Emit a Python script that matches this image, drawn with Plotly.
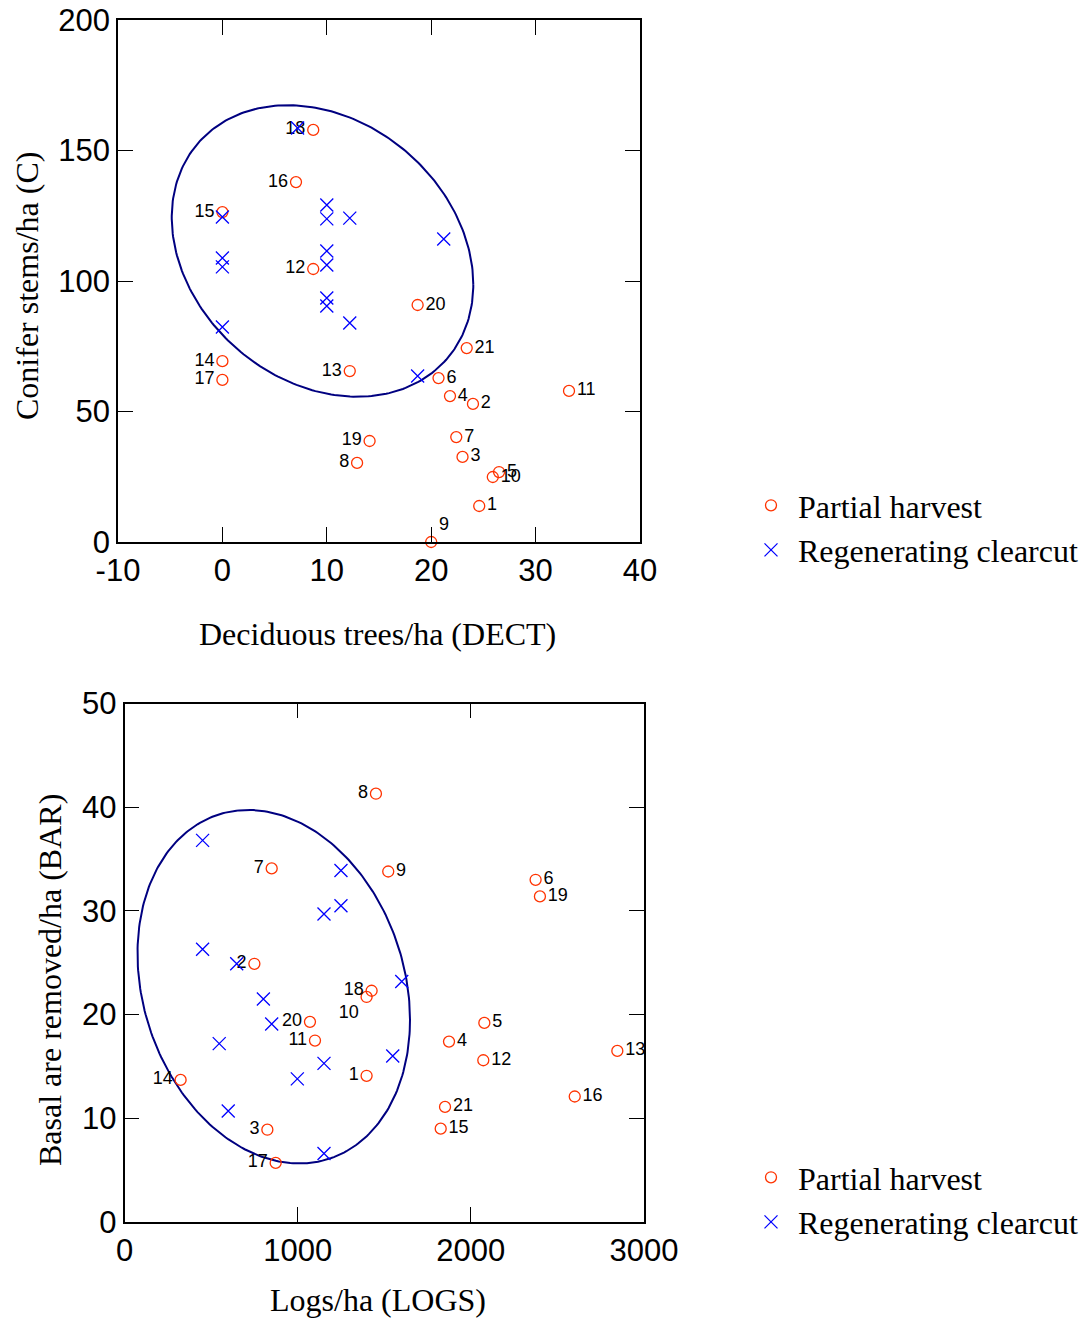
import numpy as np
import plotly.graph_objects as go

# ---------------- data: top panel (DECT vs C) ----------------
TOP_PH_ID = [str(i) for i in range(1, 22)]
TOP_PH_DECT = [24.6, 24.0, 23.0, 21.8, 26.5, 20.7, 22.4, 12.9, 20.0, 25.9, 33.2,
               8.7, 12.2, 0.0, 0.0, 7.05, 0.0, 8.7, 14.1, 18.7, 23.4]
TOP_PH_C = [13.8, 52.9, 32.6, 55.9, 26.8, 62.8, 40.2, 30.3, 0.0, 24.9, 57.9,
            104.6, 65.5, 69.3, 126.4, 137.9, 62.1, 157.9, 38.7, 90.8, 74.3]
TOP_RC_DECT = [7.2, 0.0, 10.0, 10.0, 12.2, 21.2, 0.0, 0.0, 10.0, 10.0, 10.0, 10.0, 12.2, 0.0, 18.7]
TOP_RC_C = [158.6, 124.5, 129.1, 123.8, 124.1, 116.1, 108.8, 105.4, 111.5, 106.1,
            93.5, 90.4, 83.9, 82.4, 63.6]
TOP_X_TICKS = [-10, 0, 10, 20, 30, 40]
TOP_X_TICKTEXT = ["-10", "0", "10", "20", "30", "40"]
TOP_LABEL_POS = ["middle right", "middle right", "middle right", "middle right", "middle right",
                 "middle right", "middle right", "middle left", "top right", "middle right",
                 "middle right", "middle left", "middle left", "middle left", "middle left",
                 "middle left", "middle left", "middle left", "middle left", "middle right",
                 "middle right"]
TOP_ELLIPSE_CENTER = (9.59, 111.5)
TOP_ELLIPSE_COV = [[208.6, -186.1], [-186.1, 3120.6]]

# ---------------- data: bottom panel (LOGS vs BAR) ----------------
BOT_PH_ID = [str(i) for i in range(1, 22)]
BOT_PH_LOGS = [1398, 750, 825, 1874, 2078, 2374, 850, 1452, 1523, 1398, 1100,
               2072, 2846, 324, 1826, 2600, 873, 1427, 2399, 1071, 1851]
BOT_PH_BAR = [14.1, 24.9, 8.9, 17.4, 19.2, 33.0, 34.1, 41.3, 33.8, 21.7, 17.5,
              15.6, 16.5, 13.7, 9.0, 12.1, 5.7, 22.3, 31.4, 19.3, 11.1]
BOT_RC_LOGS = [451, 1250, 1250, 1152, 451, 648, 1601, 802, 850, 547, 1152, 998, 1549, 599, 1152]
BOT_RC_BAR = [36.8, 33.9, 30.5, 29.7, 26.3, 24.9, 23.2, 21.5, 19.1, 17.2, 15.3, 13.8, 16.0, 10.7, 6.6]
BOT_LABEL_POS = ["middle left", "middle left", "middle left", "middle right", "middle right",
                 "middle right", "middle left", "middle left", "middle right", "bottom left",
                 "middle left", "middle right", "middle right", "middle left", "middle right",
                 "middle right", "middle left", "middle left", "middle right", "middle left",
                 "middle right"]
BOT_ELLIPSE_CENTER = (861.9, 22.69)
BOT_ELLIPSE_COV = [[619050.0, -2511.0], [-2511.0, 290.5]]

W, H = 1090, 1320
RED = "#ff3300"
BLUE = "#0000ff"
NAVY = "#000080"
SANS = "Liberation Sans, Arial, sans-serif"
SERIF = "Liberation Serif, Times New Roman, serif"


def ellipse(center, cov, n=300):
    L = np.linalg.cholesky(np.array(cov))
    t = np.linspace(0, 2 * np.pi, n)
    pts = L @ np.vstack([np.cos(t), np.sin(t)])
    return pts[0] + center[0], pts[1] + center[1]


fig = go.Figure()

# top panel
ex, ey = ellipse(TOP_ELLIPSE_CENTER, TOP_ELLIPSE_COV)
fig.add_trace(go.Scatter(x=ex, y=ey, mode="lines", line=dict(color=NAVY, width=2),
                         showlegend=False, hoverinfo="skip", xaxis="x", yaxis="y"))
fig.add_trace(go.Scatter(x=TOP_PH_DECT, y=TOP_PH_C, mode="markers+text", text=TOP_PH_ID,
                         textposition=TOP_LABEL_POS, textfont=dict(family=SANS, size=18, color="black"),
                         marker=dict(symbol="circle-open", size=11, color=RED, line=dict(width=1.3)),
                         name="Partial harvest", legend="legend", cliponaxis=False,
                         xaxis="x", yaxis="y"))
fig.add_trace(go.Scatter(x=TOP_RC_DECT, y=TOP_RC_C, mode="markers",
                         marker=dict(symbol="x-thin-open", size=13, color=BLUE, line=dict(width=1.3, color=BLUE)),
                         name="Regenerating clearcut", legend="legend", cliponaxis=False,
                         xaxis="x", yaxis="y"))

# bottom panel
ex, ey = ellipse(BOT_ELLIPSE_CENTER, BOT_ELLIPSE_COV)
fig.add_trace(go.Scatter(x=ex, y=ey, mode="lines", line=dict(color=NAVY, width=2),
                         showlegend=False, hoverinfo="skip", xaxis="x2", yaxis="y2"))
fig.add_trace(go.Scatter(x=BOT_PH_LOGS, y=BOT_PH_BAR, mode="markers+text", text=BOT_PH_ID,
                         textposition=BOT_LABEL_POS, textfont=dict(family=SANS, size=18, color="black"),
                         marker=dict(symbol="circle-open", size=11, color=RED, line=dict(width=1.3)),
                         name="Partial harvest", legend="legend2", cliponaxis=False,
                         xaxis="x2", yaxis="y2"))
fig.add_trace(go.Scatter(x=BOT_RC_LOGS, y=BOT_RC_BAR, mode="markers",
                         marker=dict(symbol="x-thin-open", size=13, color=BLUE, line=dict(width=1.3, color=BLUE)),
                         name="Regenerating clearcut", legend="legend2", cliponaxis=False,
                         xaxis="x2", yaxis="y2"))

axis_common = dict(showline=True, linecolor="black", linewidth=1.5, mirror="allticks",
                   ticks="inside", ticklen=15, tickwidth=1.2, tickcolor="black",
                   showgrid=False, zeroline=False, tickfont=dict(family=SANS, size=31, color="black"),
                   automargin=False)

legend_common = dict(xanchor="left", yanchor="top", bgcolor="rgba(0,0,0,0)", itemwidth=44,
                     font=dict(family=SERIF, size=32, color="black"))

title_font = dict(family=SERIF, size=32, color="black")

fig.update_layout(
    width=W, height=H, margin=dict(l=0, r=0, t=0, b=0),
    paper_bgcolor="white", plot_bgcolor="white",
    xaxis=dict(domain=[118 / W, 640 / W], range=[-10, 40], tickvals=TOP_X_TICKS, ticktext=TOP_X_TICKTEXT,
               anchor="y", **axis_common),
    yaxis=dict(domain=[1 - 542 / H, 1 - 20 / H], range=[0, 200], dtick=50, anchor="x", **axis_common),
    xaxis2=dict(domain=[124.5 / W, 644 / W], range=[0, 3000], dtick=1000, anchor="y2", **axis_common),
    yaxis2=dict(domain=[1 - 1222 / H, 1 - 703.5 / H], range=[0, 50], dtick=10, anchor="x2", **axis_common),
    legend=dict(x=744 / W, y=1 - 478 / H, **legend_common),
    legend2=dict(x=744 / W, y=1 - 1150 / H, **legend_common),
    annotations=[
        dict(text="Deciduous trees/ha (DECT)", x=377 / W, y=1 - 634 / H, xref="paper", yref="paper",
             xanchor="center", yanchor="middle", showarrow=False, font=title_font),
        dict(text="Conifer stems/ha (C)", x=27 / W, y=1 - 286 / H, xref="paper", yref="paper",
             xanchor="center", yanchor="middle", showarrow=False, textangle=-90, font=title_font),
        dict(text="Logs/ha (LOGS)", x=378 / W, y=1 - 1300 / H, xref="paper", yref="paper",
             xanchor="center", yanchor="middle", showarrow=False, font=title_font),
        dict(text="Basal are removed/ha (BAR)", x=50 / W, y=1 - 980 / H, xref="paper", yref="paper",
             xanchor="center", yanchor="middle", showarrow=False, textangle=-90, font=title_font),
    ],
)

fig.write_html("out.html")
